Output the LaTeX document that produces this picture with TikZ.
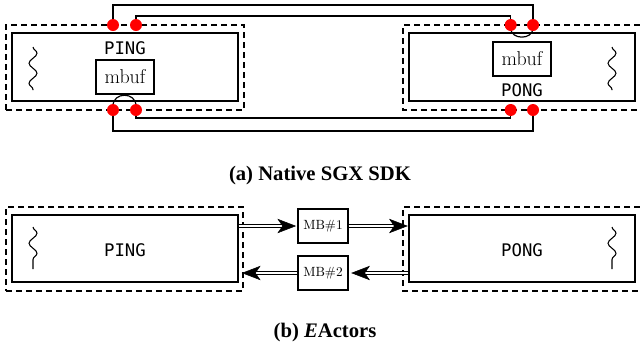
\documentclass[tikz,border=0pt]{standalone}
\usepackage{fontspec}
\usetikzlibrary{arrows.meta,decorations.pathmorphing,calc}
\newfontfamily\capfont{Liberation Serif}
\newfontfamily\codefont{DejaVu Sans Mono}

\tikzset{
  box/.style={draw, line width=0.9pt, inner sep=0pt, rectangle},
  enclave/.style={draw, dashed, dash pattern=on 4.5pt off 3pt, line width=0.8pt, inner sep=0pt, rectangle},
  encl/.style={dashed, dash pattern=on 4.5pt off 3pt, line width=0.8pt},
  actor/.style={box, minimum width=169.5pt, minimum height=51pt},
  buf/.style={box, minimum width=43.5pt, minimum height=25.5pt, font=\fontsize{15}{15}\selectfont},
  mbox/.style={box, minimum width=37.5pt, minimum height=25.5pt, font=\fontsize{10}{10}\selectfont},
  proctext/.style={font=\codefont\fontsize{13}{13}\selectfont, inner sep=0pt},
  port/.style={circle, fill=red, inner sep=0pt, minimum size=9pt},
  wire/.style={line width=0.9pt},
  thread/.style={line width=0.8pt, decorate, decoration={snake, amplitude=3pt, segment length=15pt}},
  shaft/.style={double, double distance=1.8pt, line width=0.8pt, shorten >=8pt},
  head/.style={line width=0.4pt, draw=black, fill=black, line join=miter},
  captext/.style={font=\capfont\bfseries\fontsize{15.5}{15.5}\selectfont, anchor=base, inner sep=0pt}
}
% a message-passing channel: doubled shaft ending in a solid stealth head
\newcommand{\mailchan}[2]{%
  \draw[shaft] (#1) -- (#2);
  \coordinate (hb) at ($(#2)!13pt!(#1)$);
  \filldraw[head] (#2) -- ($(hb)!5pt!90:(#2)$) -- ($(#2)!9.5pt!(#1)$)
     -- ($(hb)!5pt!-90:(#2)$) -- cycle;}

\begin{document}
\begin{tikzpicture}[x=0.75pt, y=0.75pt]
\useasboundingbox (0,0) rectangle (640,-347);

% ---------- (a) Native SGX SDK ----------
\node[enclave, minimum width=178.5pt, minimum height=63.75pt] (encA) at (125,-67.5) {};
\node[actor] (pingA) at (125,-67) {};
\draw[encl] (640,-25) -- (403,-25) -- (403,-110) -- (640,-110);
\node[actor] (pongA) at (522,-67) {};

\node[proctext] (pingAt) at (125,-48) {PING};
\node[buf] (mbufA) at (125,-77) {mbuf};
\node[buf] (mbufB) at (522,-59) {mbuf};
\node[proctext] (pongAt) at (522,-90) {PONG};

\draw[thread] (33,-47) -- (33,-90);
\draw[thread] (612,-47) -- (612,-90);

% enclave boundary ports
\coordinate (p1) at (113,-25);
\coordinate (p2) at (136,-25);
\coordinate (p3) at (113,-110);
\coordinate (p4) at (136,-110);
\coordinate (q1) at (510.7,-25);
\coordinate (q2) at (533,-25);
\coordinate (q3) at (510.7,-110);
\coordinate (q4) at (533,-110);

% ocall/ecall wires between the enclaves
\draw[wire] (p1) -- ++(0,20) -| (q2);
\draw[wire] (p2) -- ++(0,9) -| (q1);
\draw[wire] (p4) -- ++(0,-8) -| (q3);
\draw[wire] (p3) -- ++(0,-21) -| (q4);
\draw[wire] ($(p3)+(0,4)$) to[out=90,in=90,looseness=1.6] ($(p4)+(0,4)$);
\draw[wire] ($(q1)+(0,-3)$) to[out=-90,in=-90,looseness=1.4] ($(q2)+(0,-3)$);

\foreach \c in {p1,p2,p3,p4,q1,q2,q3,q4}
  \node[port] at (\c) {};

\node[captext] (capA) at (320,-180) {(a) Native SGX SDK};

% ---------- (b) EActors ----------
\node[enclave, minimum width=177.75pt, minimum height=63pt] (encB) at (124.5,-249) {};
\node[actor, minimum height=50.25pt] (pingB) at (125,-248.5) {};
\draw[encl] (640,-207) -- (403,-207) -- (403,-291) -- (640,-291);
\node[actor, minimum height=50.25pt] (pongB) at (522,-248.5) {};

\node[proctext] (pingBt) at (125,-250) {PING};
\node[proctext] (pongBt) at (522,-250) {PONG};

\draw[thread] (33,-227) -- (33,-269);
\draw[thread] (612,-227) -- (612,-269);

\node[mbox] (mb1) at (323,-226) {MB\#1};
\node[mbox] (mb2) at (323,-273) {MB\#2};

% channel end points on the actor boxes
\coordinate (pingOut) at (pingB.east |- mb1.west);
\coordinate (mb1In)   at ([xshift=-1.5pt]mb1.west);
\coordinate (pongIn)  at ([xshift=-1pt]pongB.west |- mb1.east);
\coordinate (pongOut) at (pongB.west |- mb2.east);
\coordinate (mb2In)   at ([xshift=2.5pt]mb2.east);
\coordinate (pingIn)  at ([xshift=3pt]pingB.east |- mb2.west);

\mailchan{pingOut}{mb1In}
\mailchan{mb1.east}{pongIn}
\mailchan{pongOut}{mb2In}
\mailchan{mb2.west}{pingIn}

\node[captext] (capB) at (325,-337) {(b) \textit{E}Actors};
\end{tikzpicture}
\end{document}
